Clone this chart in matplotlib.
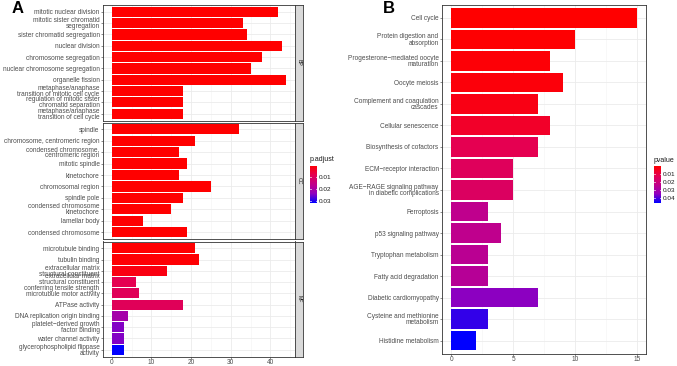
import numpy as np
import matplotlib.pyplot as plt
from matplotlib.colors import LinearSegmentedColormap, Normalize

plt.rcParams['font.family'] = ['Liberation Sans', 'DejaVu Sans']

# ---- Panel A data (GO enrichment, top to bottom within each facet) ----
bp_terms = ['mitotic nuclear division', 'mitotic sister chromatid\nsegregation',
            'sister chromatid segregation', 'nuclear division', 'chromosome segregation',
            'nuclear chromosome segregation', 'organelle fission',
            'metaphase/anaphase\ntransition of mitotic cell cycle',
            'regulation of mitotic sister\nchromatid separation',
            'metaphase/anaphase\ntransition of cell cycle']
bp_counts = [42, 33, 34, 43, 38, 35, 44, 18, 18, 18]
bp_padj = [1e-9, 2e-8, 2e-8, 1e-9, 5e-9, 1e-8, 1e-9, 1e-6, 1e-6, 1e-6]

cc_terms = ['spindle', 'chromosome, centromeric region', 'condensed chromosome,\ncentromeric region',
            'mitotic spindle', 'kinetochore', 'chromosomal region', 'spindle pole',
            'condensed chromosome\nkinetochore', 'lamellar body', 'condensed chromosome']
cc_counts = [32, 21, 17, 19, 17, 25, 18, 15, 8, 19]
cc_padj = [1e-8, 1e-6, 1e-6, 1e-6, 1e-6, 1e-6, 1e-6, 1e-6, 5e-4, 1e-6]

mf_terms = ['microtubule binding', 'tubulin binding', 'extracellular matrix\nstructural constituent',
            'extracellular matrix\nstructural constituent\nconferring tensile strength',
            'microtubule motor activity', 'ATPase activity', 'DNA replication origin binding',
            'platelet\u2212derived growth\nfactor binding', 'water channel activity',
            'glycerophospholipid flippase\nactivity']
mf_counts = [21, 22, 14, 6, 7, 18, 4, 3, 3, 3]
mf_padj = [0.0004, 0.0006, 0.002, 0.0085, 0.0095, 0.0095, 0.021, 0.025, 0.025, 0.0322]

# ---- Panel B data (KEGG enrichment) ----
kegg_terms = ['Cell cycle', 'Protein digestion and\nabsorption',
              'Progesterone\u2212mediated oocyte\nmaturation', 'Oocyte meiosis',
              'Complement and coagulation\ncascades', 'Cellular senescence',
              'Biosynthesis of cofactors', 'ECM\u2212receptor interaction',
              'AGE\u2212RAGE signaling pathway\nin diabetic complications', 'Ferroptosis',
              'p53 signaling pathway', 'Tryptophan metabolism', 'Fatty acid degradation',
              'Diabetic cardiomyopathy', 'Cysteine and methionine\nmetabolism',
              'Histidine metabolism']
kegg_counts = [15, 10, 8, 9, 7, 8, 7, 5, 5, 3, 4, 3, 3, 7, 3, 2]
kegg_pval = [3e-6, 0.0005, 0.001, 0.0015, 0.003, 0.006, 0.012, 0.014, 0.015,
             0.024, 0.024, 0.025, 0.026, 0.035, 0.042, 0.046]

cmap = LinearSegmentedColormap.from_list(
    'rb', ['#FF0000', '#E6004F', '#C30088', '#9200BE', '#0000FF'])

W, H = 677, 366
fig = plt.figure(figsize=(W / 100, H / 100), dpi=100)


def ax_px(x0, y0, x1, y1):
    return fig.add_axes([x0 / W, 1 - y1 / H, (x1 - x0) / W, (y1 - y0) / H])


def style(ax, xlim, major, minor, show_x):
    ax.set_xlim(*xlim)
    ax.set_xticks(major)
    ax.set_xticks(minor, minor=True)
    ax.grid(True, which='major', color='#EBEBEB', lw=0.6)
    ax.grid(True, which='minor', axis='x', color='#F4F4F4', lw=0.4)
    ax.set_axisbelow(True)
    for s in ax.spines.values():
        s.set_color('#333333')
        s.set_linewidth(0.6)
    ax.tick_params(axis='both', which='major', length=1.5, width=0.4, color='#333333',
                   labelsize=4.7, labelcolor='#4D4D4D', pad=1)
    ax.tick_params(axis='x', which='major', pad=0.5)
    ax.tick_params(axis='x', which='minor', length=0)
    if not show_x:
        ax.tick_params(axis='x', which='major', length=0, labelbottom=False)


def draw_bars(ax, terms, counts, pv, norm):
    n = len(terms)
    y = np.arange(n)[::-1] + 1
    ax.barh(y, counts, height=0.9, color=cmap(norm(np.array(pv))))
    ax.set_ylim(0.4, n + 0.6)
    ax.set_yticks(y)
    ax.set_yticklabels(terms)
    for lbl in ax.get_yticklabels():
        lbl.set_linespacing(0.82)


# Panel A
normA = Normalize(vmin=0.0002, vmax=0.0322)
facets = [(bp_terms, bp_counts, bp_padj, 'BP', 5, 120.5),
          (cc_terms, cc_counts, cc_padj, 'CC', 122.5, 239),
          (mf_terms, mf_counts, mf_padj, 'MF', 241.5, 356.5)]
for terms, counts, pv, lab, y0, y1 in facets:
    ax = ax_px(103, y0, 295, y1)
    draw_bars(ax, terms, counts, pv, normA)
    style(ax, (-2.2, 46.2), [0, 10, 20, 30, 40], [5, 15, 25, 35, 45], lab == 'MF')
    sx = ax_px(295, y0, 302.7, y1)
    sx.set_facecolor('#D9D9D9')
    sx.set_xticks([])
    sx.set_yticks([])
    for s in sx.spines.values():
        s.set_color('#333333')
        s.set_linewidth(0.6)
    sx.text(0.5, 0.5, lab, rotation=-90, ha='center', va='center', fontsize=3.8,
            color='#1A1A1A', transform=sx.transAxes)

# Panel B
normB = Normalize(vmin=0.0, vmax=0.046)
axB = ax_px(442, 5, 646, 353.5)
draw_bars(axB, kegg_terms, kegg_counts, kegg_pval, normB)
style(axB, (-0.75, 15.75), [0, 5, 10, 15], [2.5, 7.5, 12.5], True)

# Colour legends
def colorbar(x0, y0, x1, y1, norm, ticks, title, tx):
    cax = ax_px(x0, y0, x1, y1)
    grad = np.linspace(norm.vmin, norm.vmax, 200).reshape(-1, 1)
    cax.imshow(cmap(norm(grad)), aspect='auto', extent=(0, 1, norm.vmax, norm.vmin))
    cax.set_ylim(norm.vmax, norm.vmin)
    cax.set_xlim(0, 1)
    cax.set_xticks([])
    cax.yaxis.tick_right()
    cax.set_yticks(ticks)
    cax.set_yticklabels([f'{t:.2f}' for t in ticks])
    cax.tick_params(axis='y', length=0, labelsize=4.6, labelcolor='#1A1A1A', pad=1.5)
    for t in ticks:
        cax.plot([0, 0.2], [t, t], color='white', lw=0.5)
        cax.plot([0.8, 1], [t, t], color='white', lw=0.5)
    for s in cax.spines.values():
        s.set_visible(False)
    fig.text(tx / W, 1 - (y0 - 2.5) / H, title, fontsize=5, color='#1A1A1A',
             ha='left', va='bottom')


colorbar(310, 165.7, 317, 203.3, normA, [0.01, 0.02, 0.03], 'p.adjust', 309.5)
colorbar(654, 166, 661, 203, normB, [0.01, 0.02, 0.03, 0.04], 'pvalue', 653.5)

# Panel letters
fig.text(11.5 / W, 1 - 1 / H, 'A', fontsize=12, fontweight='bold', ha='left', va='top')
fig.text(382.5 / W, 1 - 1 / H, 'B', fontsize=12, fontweight='bold', ha='left', va='top')

fig.savefig('out.png', dpi=100)
